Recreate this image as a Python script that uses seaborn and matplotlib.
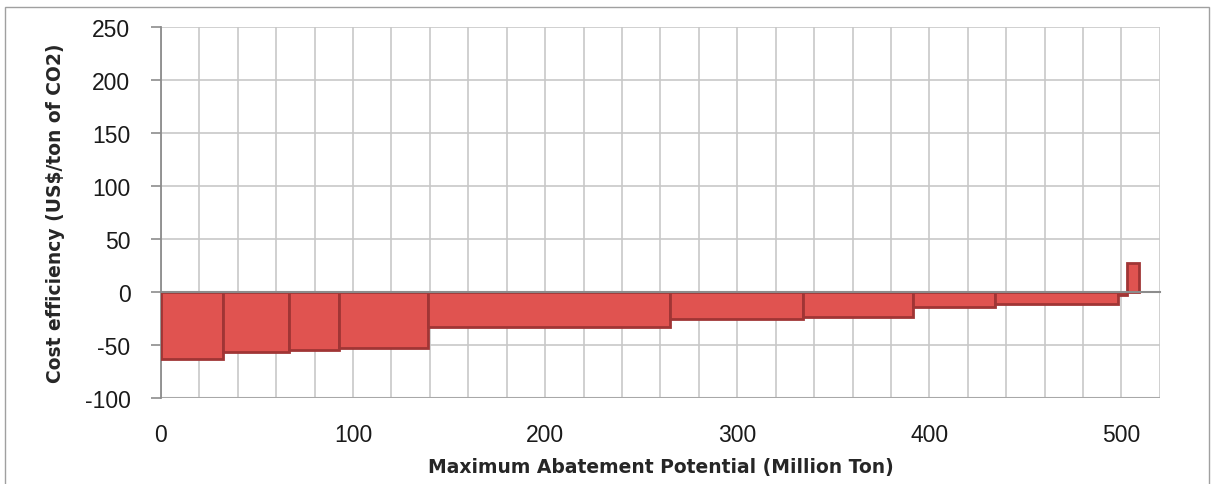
import seaborn as sns
import matplotlib.pyplot as plt
from matplotlib.patches import Rectangle
from matplotlib.ticker import MultipleLocator

# abatement measures: width (Mt) and cost (US$/t CO2), in merit order
widths = [32.3, 34.3, 26.2, 46.2, 126.0, 69.0, 57.7, 42.3, 64.0, 5.0, 6.0]
costs = [-63, -57, -55, -53, -33, -25.5, -24, -14.5, -11.3, -2.5, 27]
starts = [sum(widths[:i]) for i in range(len(widths))]

y_ticks = [-100, -50, 0, 50, 100, 150, 200, 250]
x_ticks = [0, 100, 200, 300, 400, 500]

sns.set_theme(style="white")
plt.rcParams['font.family'] = ['Liberation Sans', 'DejaVu Sans']
plt.rcParams['axes.unicode_minus'] = False

fig = plt.figure(figsize=(12.12, 4.85), dpi=100)
ax = fig.add_axes([0.1328, 0.1773, 0.957 - 0.1328, 0.9423 - 0.1773])

ax.bar(starts, costs, width=widths, align="edge", color="#E05350",
       edgecolor="#A03535", linewidth=2, zorder=3)

ax.set_xlim(0, 520)
ax.set_ylim(-100, 250)
ax.xaxis.set_minor_locator(MultipleLocator(20))
ax.set_xticks(x_ticks)
ax.set_yticks(y_ticks)
ax.grid(which="both", axis="x", color="#C8C8C8", linewidth=1.2, zorder=0)
ax.grid(which="major", axis="y", color="#C8C8C8", linewidth=1.2, zorder=0)

for s in ["top", "right"]:
    ax.spines[s].set_visible(False)
ax.spines["left"].set_color("#8C8C8C")
ax.spines["left"].set_linewidth(1.3)
# horizontal axis crosses at zero
ax.spines["bottom"].set_position(("data", 0))
ax.spines["bottom"].set_color("#8C8C8C")
ax.spines["bottom"].set_linewidth(1.5)
ax.spines["bottom"].set_zorder(4)
ax.tick_params(axis="x", which="major", direction="inout", length=8,
               width=1.3, color="#8C8C8C", labelbottom=False)
ax.tick_params(axis="x", which="minor", length=0)
ax.tick_params(axis="y", direction="out", length=7, width=1.2,
               color="#8C8C8C", left=True, labelsize=16.5, pad=15,
               labelcolor="#1a1a1a")
ax.axhline(-100, color="#A8A8A8", linewidth=1.5, zorder=2)

sec = ax.secondary_xaxis(0)
sec.set_xticks(x_ticks)
sec.tick_params(length=0, labelsize=16.5, pad=18, labelcolor="#1a1a1a")
sec.spines["bottom"].set_visible(False)
sec.set_xlabel("Maximum Abatement Potential (Million Ton)",
               fontsize=13.5, fontweight="bold", labelpad=8,
               family="DejaVu Sans")

ax.set_ylabel("Cost efficiency (US$/ton of CO2)", fontsize=13.5,
              fontweight="bold", labelpad=14, family="DejaVu Sans")

fig.patches.append(Rectangle((5 / 1212, -0.01), 1204 / 1212, 1 - 8 / 485 + 0.01,
                             transform=fig.transFigure, fill=False,
                             edgecolor="#A0A0A0", linewidth=1))

fig.savefig("out.png", dpi=100)
